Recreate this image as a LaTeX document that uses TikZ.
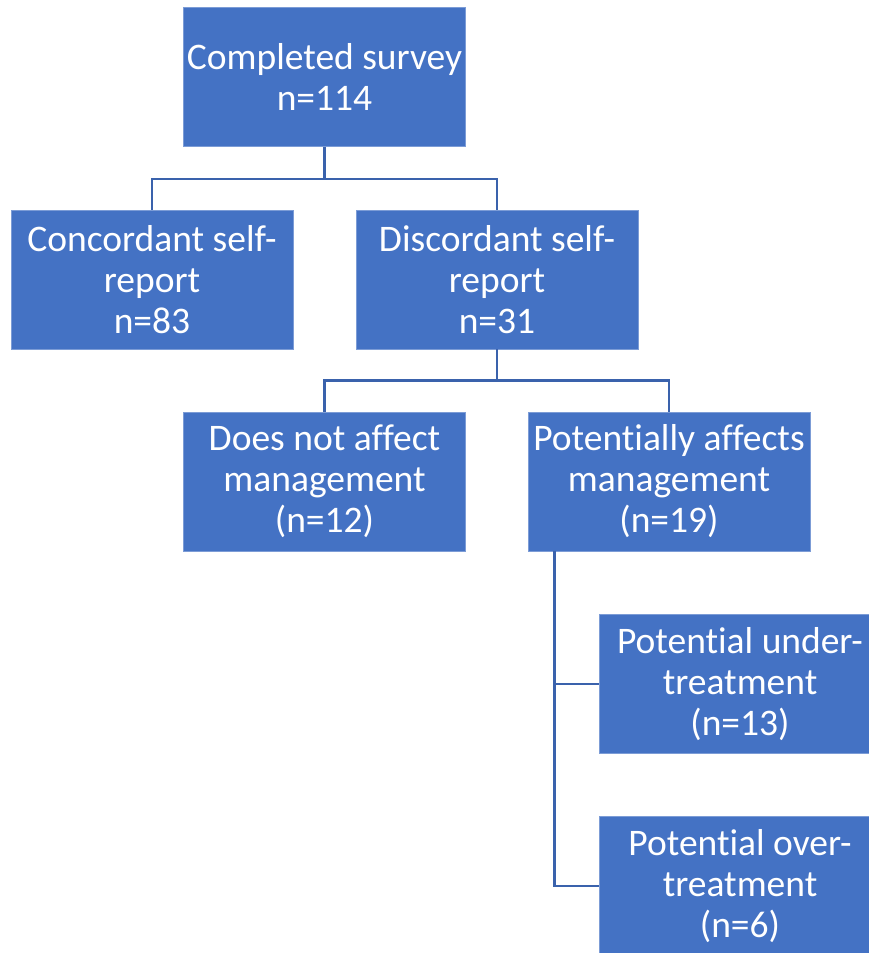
\documentclass[tikz,border=0pt]{standalone}
\usepackage{fontspec}
\setmainfont{Carlito}[Ligatures=NoCommon]
\usepackage{tikz}
\usetikzlibrary{positioning}

\begin{document}
\begin{tikzpicture}[
    x=1pt, y=-1pt,
    box/.style={fill=bx, draw=bx!70!white, line width=0.8pt, text=white,
        minimum width=282pt, minimum height=139pt, inner sep=0pt,
        align=center, font=\fontsize{37.5}{41}\selectfont},
    link/.style={draw=lnx, line width=2.3pt}
]
\definecolor{bx}{HTML}{4472C4}
\definecolor{lnx}{HTML}{3A62AC}

    \clip (0,0) rectangle (869,953);

    \node[box] (s) at (324.5,77) {Completed survey\\n=114};
    \node[box] (c) at (152,279.5) {Concordant self-\\report\\n=83};
    \node[box] (d) at (497,279.5) {Discordant self-\\report\\n=31};
    \node[box] (na) at (324.5,481.5) {Does not affect\\management\\(n=12)};
    \node[box] (pa) at (669,481.5) {Potentially affects\\management\\(n=19)};
    \node[box] (pu) at (740,684) {Potential under-\\treatment\\(n=13)};
    \node[box] (po) at (740,886) {Potential over-\\treatment\\(n=6)};

    % survey split
    \draw [link] (s.south) -- ++(0,32) coordinate (sf);
    \draw [link] (sf) -| (c.north);
    \draw [link] (sf) -| (d.north);

    % discordant split
    \draw [link] (d.south) -- ++(0,31) coordinate (df);
    \draw [link] (df) -| (na.north);
    \draw [link] (df) -| (pa.north);

    % management branch
    \coordinate (pf) at ([xshift=27pt]pa.south west);
    \draw [link] (pf) |- (pu.west);
    \draw [link] (pf) |- (po.west);
\end{tikzpicture}
\end{document}
